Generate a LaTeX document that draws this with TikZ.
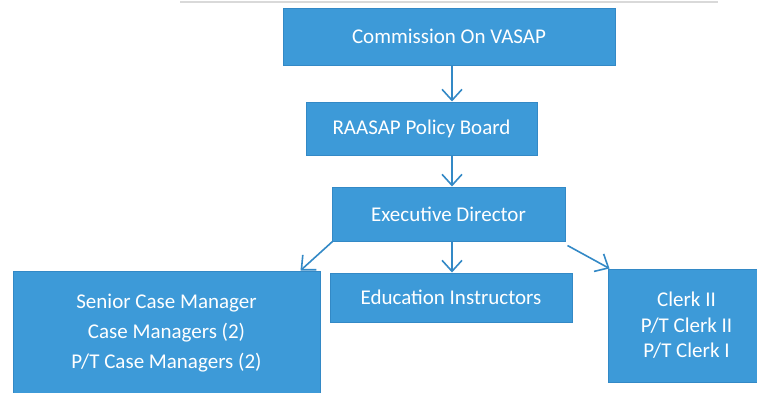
\documentclass[tikz,border=0pt]{standalone}
\usepackage{fontspec}
\setmainfont{Carlito}
\usetikzlibrary{arrows.meta}
\definecolor{boxblue}{HTML}{3D9AD8}
\definecolor{boxedge}{HTML}{3389C6}
\tikzset{
  orgbox/.style={rectangle, fill=boxblue, draw=boxedge, line width=1pt, text=white,
    font=\fontsize{21}{28}\selectfont, align=center, inner sep=0pt},
  arr/.style={draw=boxedge, line width=1.6pt, -{Straight Barb[length=11pt,width=20pt,line width=1.6pt]}}
}
\begin{document}
\begin{tikzpicture}[x=1pt,y=-1pt]
\useasboundingbox (0,0) rectangle (757,392);
\clip (0,0) rectangle (757,392);
\draw[gray!30, line width=2pt] (180,1.5) -- (718,1.5);
\node[orgbox, minimum width=332pt, minimum height=57pt] (comm) at (449,36.5) {Commission On VASAP};
\node[orgbox, minimum width=231pt, minimum height=53pt] (board) at (421.5,128.5) {RAASAP Policy Board};
\node[orgbox, minimum width=233pt, minimum height=54pt] (ed) at (448.5,214) {Executive Director};
\node[orgbox, minimum width=242pt, minimum height=49pt] (edu) at (451,297.5) {Education Instructors};
\node[orgbox, minimum width=307pt, minimum height=124pt, font=\fontsize{21}{30}\selectfont] (senior) at (166.5,333) {Senior Case Manager\\Case Managers (2)\\P/T Case Managers (2)};
\node[orgbox, minimum width=157pt, minimum height=113pt, font=\fontsize{21}{25.5}\selectfont] (clerk) at (686.5,325.5) {Clerk II\\P/T Clerk II\\P/T Clerk I};
\coordinate (spine) at (452,0);
\draw[arr] (comm.south -| spine) -- (board.north -| spine);
\draw[arr] (board.south -| spine) -- (ed.north -| spine);
\draw[arr] (ed.south -| spine) -- (edu.north -| spine);
\draw[arr] ([xshift=1pt]ed.south west) -- ([xshift=-20pt]senior.north east);
\draw[arr] ([xshift=2pt,yshift=-4pt]ed.south east) -- ([xshift=2pt]clerk.north west);
\end{tikzpicture}
\end{document}
